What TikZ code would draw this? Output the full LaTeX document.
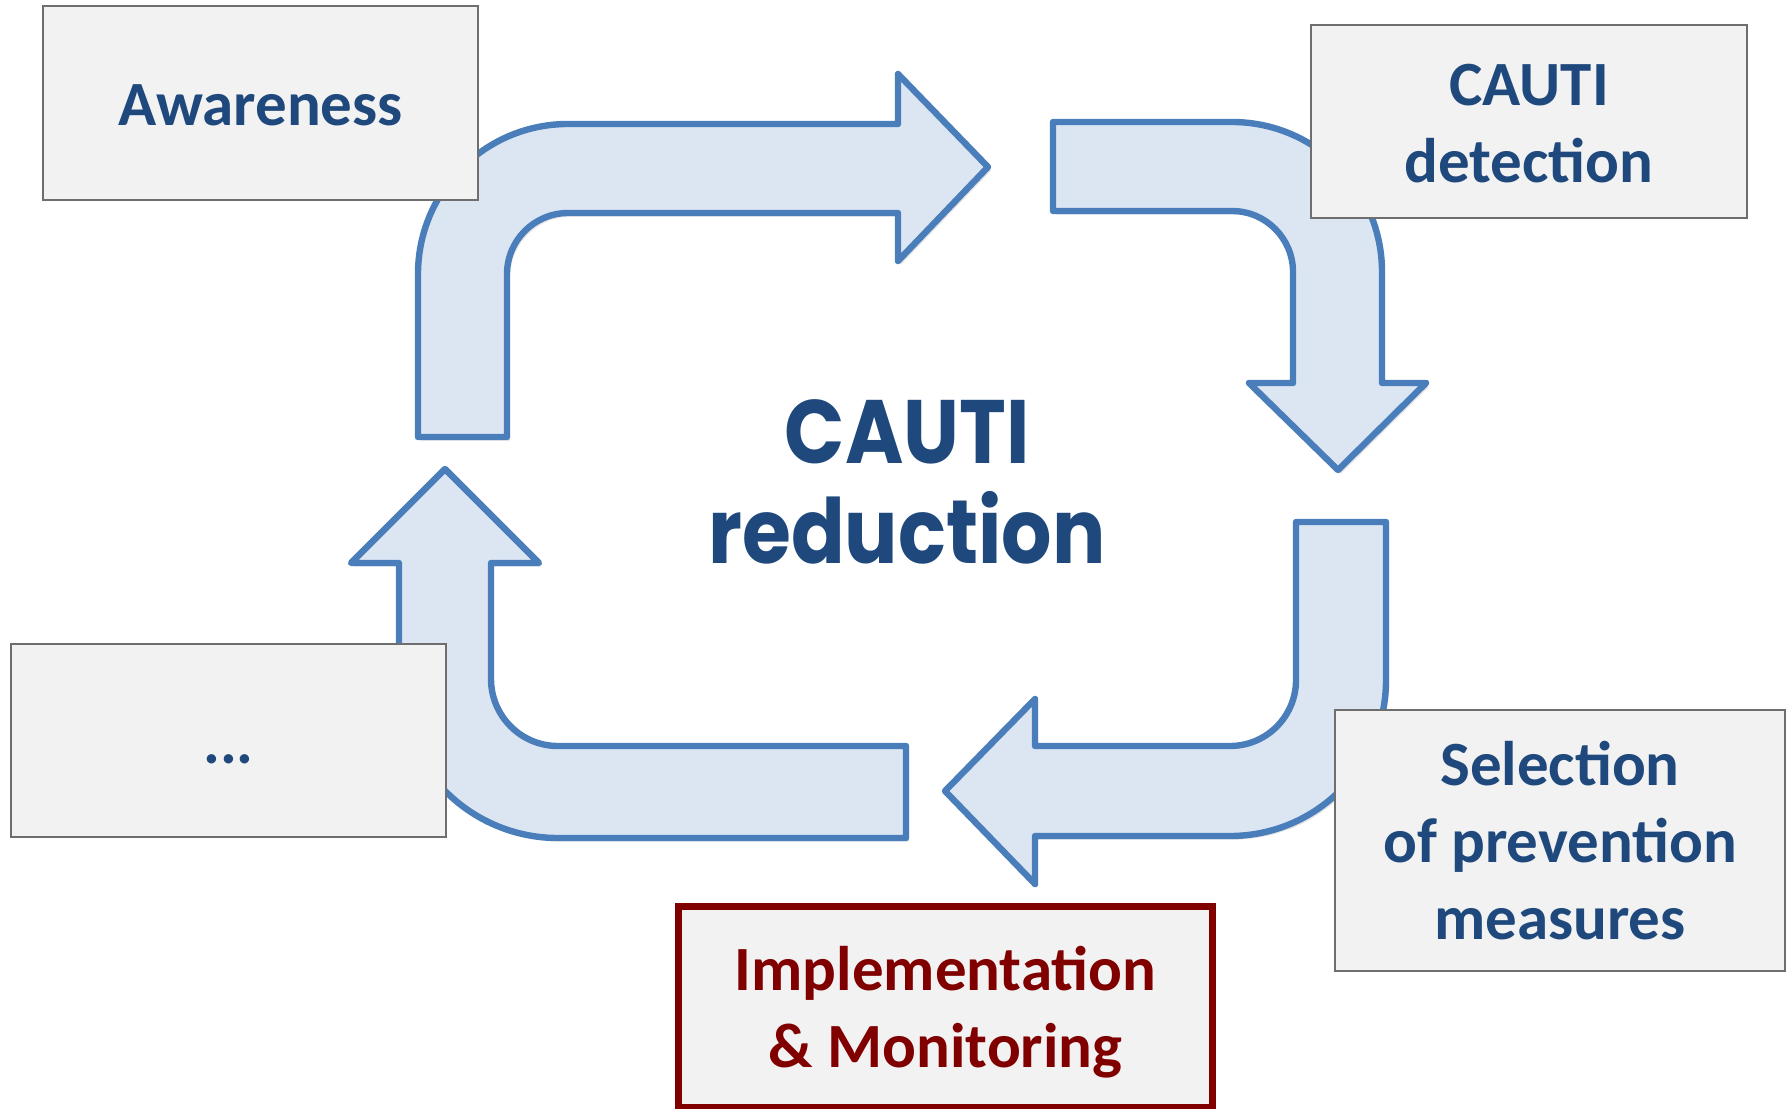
\documentclass[tikz,border=0pt]{standalone}
\usepackage{fontspec}
\setmainfont{Carlito}
\newfontfamily\geofont{Poppins}[FakeStretch=0.88]
\usetikzlibrary{shadows}
\definecolor{txtblue}{RGB}{31,73,125}
\definecolor{arrfill}{RGB}{220,230,242}
\definecolor{arrline}{RGB}{74,126,187}
\definecolor{boxfill}{RGB}{242,242,242}
\definecolor{boxline}{RGB}{110,110,110}
\definecolor{darkred}{RGB}{128,0,0}
\begin{document}
\begin{tikzpicture}[x=0.5pt,y=-0.5pt,
  blockarrow/.style={fill=arrfill, draw=arrline, line width=3.2pt, line join=round,
    drop shadow={opacity=0.22, shadow xshift=1.5pt, shadow yshift=-1.8pt}},
  stagebox/.style={rectangle, fill=boxfill, draw=boxline, line width=1pt, inner sep=0pt},
  implbox/.style={rectangle, fill=boxfill, draw=darkred, line width=3.5pt, inner sep=0pt},
  stagetext/.style={font=\bfseries\fontsize{31.5}{38.5}\selectfont, text=txtblue, align=center, inner sep=0pt},
  impltext/.style={stagetext, text=darkred},
  centertext/.style={font=\geofont\bfseries\fontsize{45}{50}\selectfont, text=txtblue, align=center, inner sep=0pt}
]
\useasboundingbox (0,0) rectangle (1791,1108);

% top arrow (left shaft up, then right)
\draw[blockarrow] (418,437) -- (418,274) arc[start angle=180, end angle=270, radius=150]
  -- (898,124) -- (898,74) -- (988,167) -- (898,261) -- (898,213) -- (568,213)
  arc[start angle=270, end angle=180, radius=61] -- (507,437) -- cycle;

% top-right arrow (right, then down)
\draw[blockarrow] (1053,122) -- (1232,122) arc[start angle=270, end angle=360, radius=150]
  -- (1382,383) -- (1426,383) -- (1338,470) -- (1249,383) -- (1293,383) -- (1293,272)
  arc[start angle=0, end angle=-90, radius=61] -- (1053,211) -- cycle;

% bottom-right arrow (down, then left)
\draw[blockarrow] (1296,522) -- (1386,522) -- (1386,680) arc[start angle=0, end angle=90, radius=156]
  -- (1035,836) -- (1035,884) -- (945,791) -- (1035,699) -- (1035,746) -- (1230,746)
  arc[start angle=90, end angle=0, radius=66] -- cycle;

% bottom-left arrow (left, then up)
\draw[blockarrow] (906,746) -- (906,838) -- (558,838) arc[start angle=90, end angle=180, radius=159]
  -- (399,563) -- (351,563) -- (445,469) -- (539,563) -- (491,563) -- (491,679)
  arc[start angle=180, end angle=90, radius=67] -- cycle;

% boxes
\node[stagebox, minimum width=217.5pt, minimum height=97pt] (awbox) at (260.5,103) {};
\node[stagebox, minimum width=218pt, minimum height=96.5pt] (detbox) at (1529,121.5) {};
\node[stagebox, minimum width=225pt, minimum height=130.5pt] (selbox) at (1560,840.5) {};
\node[stagebox, minimum width=217.5pt, minimum height=96.5pt] (dotbox) at (228.5,740.5) {};
\node[implbox, minimum width=267pt, minimum height=100.25pt] (impbox) at (945.5,1006.75) {};

% texts
\node[stagetext] (awtext) at (260.5,105) {Awareness};
\node[stagetext] (dettext) at (1529,123.5) {CAUTI\\detection};
\node[stagetext] (seltext) at (1560,841) {Selection\\of prevention\\measures};
\node[stagetext] (dottext) at (228.5,759) {...};
\node[impltext] (imptext) at (945.5,1012.5) {Implementation\\\&~Monitoring};
\node[centertext] (ctext) at (907,481.5) {CAUTI\\reduction};
\end{tikzpicture}
\end{document}
